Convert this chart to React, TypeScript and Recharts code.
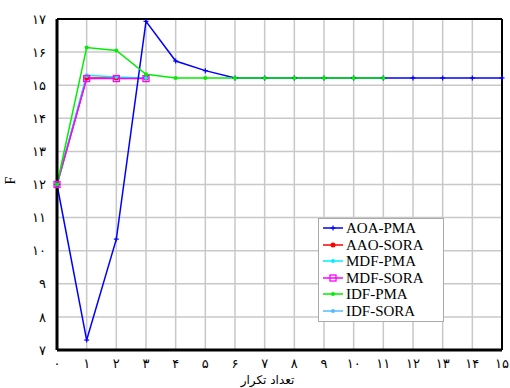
import { LineChart, Line, XAxis, YAxis, CartesianGrid, ReferenceLine } from 'recharts';

const iterations = [0, 1, 2, 3, 4, 5, 6, 7, 8, 9, 10, 11, 12, 13, 14, 15];
const xTicks = [0, 1, 2, 3, 4, 5, 6, 7, 8, 9, 10, 11, 12, 13, 14, 15];
const yTicks = [7, 8, 9, 10, 11, 12, 13, 14, 15, 16, 17];

const aoaPma = [12, 7.3, 10.35, 16.93, 15.73, 15.44, 15.22, 15.22, 15.22, 15.22, 15.22, 15.22, 15.22, 15.22, 15.22, 15.22];
const aaoSora = [12, 15.22, 15.22, 15.22];
const mdfPma = [12, 15.3, 15.25, 15.22];
const mdfSora = [12, 15.2, 15.2, 15.2];
const idfPma = [12, 16.14, 16.05, 15.33, 15.22, 15.22, 15.22, 15.22, 15.22, 15.22, 15.22, 15.22];
const idfSora = [12, 15.28];

const names = ['AOA-PMA', 'AAO-SORA', 'MDF-PMA', 'MDF-SORA', 'IDF-PMA', 'IDF-SORA'];
const COLORS = ['#0000ff', '#ff0000', '#00f0ff', '#ff00ff', '#00ee00', '#55bbff'];

const data = iterations.map((it, i) => ({
    it,
    s0: aoaPma[i] ?? null,
    s1: aaoSora[i] ?? null,
    s2: mdfPma[i] ?? null,
    s3: mdfSora[i] ?? null,
    s4: idfPma[i] ?? null,
    s5: idfSora[i] ?? null,
}));

const fa = (n: number) => String(n).replace(/\d/g, (d) => '۰۱۲۳۴۵۶۷۸۹'[+d]);

const Marker = ({ kind, cx, cy, color }: { kind: number; cx: number; cy: number; color: string }) => {
    if (kind === 0) return <g stroke={color} strokeWidth={1.2}><line x1={cx - 2.5} x2={cx + 2.5} y1={cy} y2={cy} /><line x1={cx} x2={cx} y1={cy - 2.5} y2={cy + 2.5} /></g>;
    if (kind === 3) return <rect x={cx - 3} y={cy - 3} width={6} height={6} fill="none" stroke={color} strokeWidth={1.3} />;
    return <circle cx={cx} cy={cy} r={kind === 1 ? 2.5 : 2} fill={color} />;
};

const dotFor = (kind: number) => (p: any) => {
    if (p.value == null || p.cx == null) return <g key={p.key} />;
    return <Marker key={p.key} kind={kind} cx={p.cx} cy={p.cy} color={COLORS[kind]} />;
};

const LegendBox = () => (
    <div style={{ position: 'absolute', left: 318, top: 218, width: 126, boxSizing: 'border-box', background: '#fff', border: '1px solid #aaa', padding: '1px 4px 2px 3px', fontFamily: '"Liberation Serif", serif', fontSize: 15, lineHeight: '16.5px' }}>
        {names.map((n, i) => (
            <div key={n} style={{ display: 'flex', alignItems: 'center' }}>
                <svg width={22} height={10} style={{ marginRight: 2 }}>
                    <line x1={1} x2={21} y1={5} y2={5} stroke={COLORS[i]} strokeWidth={1.5} />
                    <Marker kind={i} cx={11} cy={5} color={COLORS[i]} />
                </svg>
                <span>{n}</span>
            </div>
        ))}
    </div>
);

const order = [1, 5, 2, 3, 0, 4];

export default function App() {
    return (
        <div style={{ position: 'absolute', left: 0, top: 0, width: 510, height: 388 }}>
            <LineChart width={510} height={388} data={data} margin={{ top: 19, right: 8, left: 0, bottom: 0 }}>
                <CartesianGrid stroke="#c8c8c8" strokeWidth={1.5} />
                <XAxis dataKey="it" type="number" domain={[0, 15]} ticks={xTicks} interval={0} height={38}
                    tickFormatter={fa} tickLine={false} tickMargin={3}
                    axisLine={{ stroke: '#000', strokeWidth: 3 }}
                    tick={{ fill: '#000', fontSize: 13, fontFamily: '"DejaVu Sans", sans-serif' }}
                    label={{ value: 'تعداد تکرار', position: 'insideBottom', offset: 4, dx: -12, fill: '#000', fontSize: 12, fontFamily: '"DejaVu Sans", sans-serif' }} />
                <YAxis type="number" domain={[7, 17]} ticks={yTicks} interval={0} width={57}
                    tickFormatter={fa} tickLine={false} tickMargin={5}
                    axisLine={{ stroke: '#000', strokeWidth: 3 }}
                    tick={{ fill: '#000', fontSize: 13, fontFamily: '"DejaVu Sans", sans-serif' }}
                    label={{ value: 'F', angle: -90, position: 'insideLeft', offset: 10, fill: '#000', fontSize: 14, fontFamily: '"Liberation Serif", serif' }} />
                <ReferenceLine y={17} stroke="#000" strokeWidth={2} />
                <ReferenceLine x={15} stroke="#000" strokeWidth={2} />
                {order.map((k) => (
                    <Line key={k} dataKey={`s${k}`} name={names[k]} stroke={COLORS[k]} strokeWidth={1.5}
                        dot={dotFor(k)} activeDot={false} connectNulls={false} isAnimationActive={false} />
                ))}
            </LineChart>
            <LegendBox />
        </div>
    );
}
